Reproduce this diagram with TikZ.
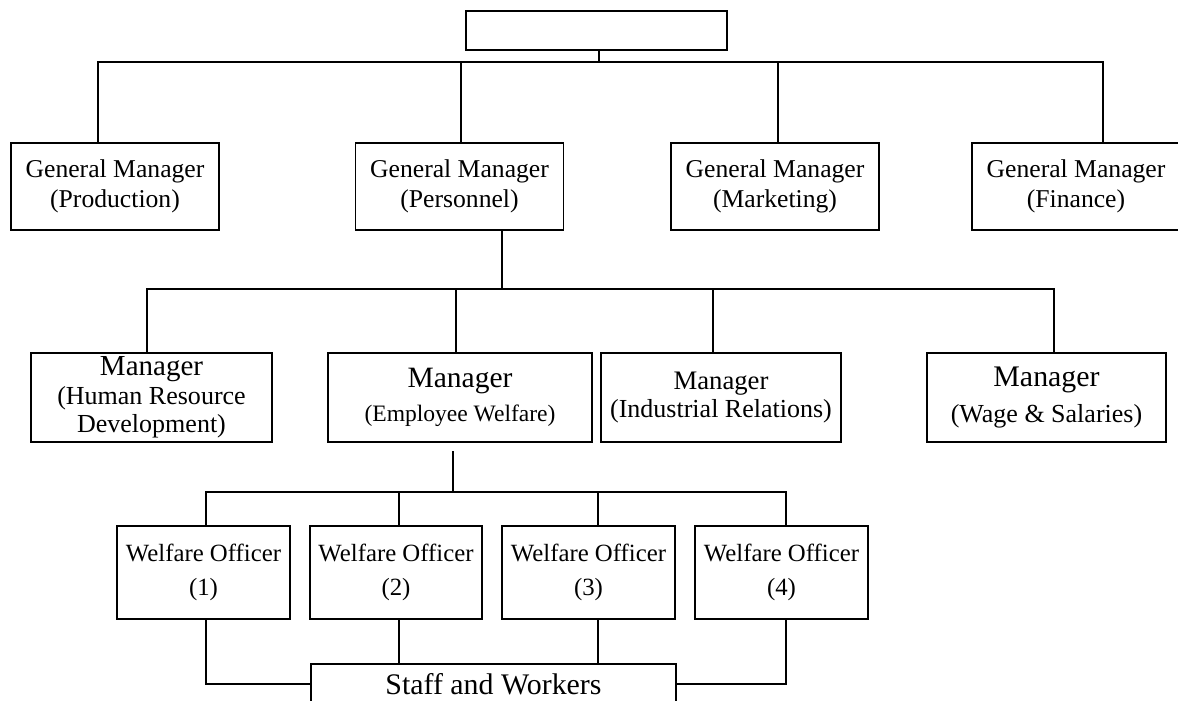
\documentclass[tikz,border=0pt]{standalone}
\usepackage{fontspec}
\setmainfont{Liberation Serif}
\usepackage{tikz}

\begin{document}
\begin{tikzpicture}[
  box/.style={draw, line width=1.1pt, align=center, inner sep=0pt},
  link/.style={line width=1.1pt},
  gmbox/.style={box, minimum width=4.16cm, minimum height=1.74cm, font=\fontsize{14.6}{17}\selectfont},
  mgbox/.style={box, minimum height=1.78cm},
  wobox/.style={box, minimum width=3.46cm, minimum height=1.86cm, font=\fontsize{14.1}{19.4}\selectfont}]
\useasboundingbox (0,0) rectangle (23.56,-14);
% top
\node[box, minimum width=5.22cm, minimum height=0.78cm] (top) at (11.93,-0.61) {};
% general managers
\node[gmbox] (prod) at (2.30,-3.73) {General Manager\\(Production)};
\node[gmbox] (pers) at (9.19,-3.73) {General Manager\\(Personnel)};
\node[gmbox] (mark) at (15.50,-3.73) {General Manager\\(Marketing)};
\node[gmbox] (fin) at (21.52,-3.73) {General Manager\\(Finance)};
% managers
\node[mgbox, minimum width=4.82cm, font=\fontsize{14.8}{16.2}\selectfont] (hrd) at (3.03,-7.95)
  {{\fontsize{16.5}{18}\selectfont Manager}\\(Human Resource\\Development)};
\node[mgbox, minimum width=5.28cm, font=\fontsize{13.4}{17}\selectfont] (ew) at (9.20,-7.95)
  {{\fontsize{16.8}{18}\selectfont Manager}\\[2.4pt](Employee Welfare)};
\node[mgbox, minimum width=4.80cm, font=\fontsize{14.8}{16}\selectfont] (ir) at (14.42,-7.95)
  {{\fontsize{15.2}{18}\selectfont Manager}\\(Industrial Relations)};
\node[mgbox, minimum width=4.78cm, font=\fontsize{14.8}{17}\selectfont] (ws) at (20.93,-7.95)
  {{\fontsize{17}{18}\selectfont Manager}\\[3.5pt](Wage \& Salaries)};
% welfare officers
\node[wobox] (wo1) at (4.07,-11.45) {Welfare Officer\\(1)};
\node[wobox, minimum width=3.44cm] (wo2) at (7.92,-11.45) {Welfare Officer\\(2)};
\node[wobox] (wo3) at (11.77,-11.45) {Welfare Officer\\(3)};
\node[wobox] (wo4) at (15.63,-11.45) {Welfare Officer\\(4)};
% staff
\node[box, minimum width=7.30cm, minimum height=0.80cm, font=\fontsize{17}{20}\selectfont] (staff) at (9.87,-13.68) {Staff and Workers};

% level 1
\coordinate (b1) at (11.98,-1.24);
\coordinate (d1) at (1.96,-1.24);
\coordinate (d2) at (9.22,-1.24);
\coordinate (d3) at (15.56,-1.24);
\coordinate (d4) at (22.06,-1.24);
\draw[link] (top.south -| b1) -- (b1);
\draw[link] (prod.north -| d1) -- (d1) -- (d4) -- (fin.north -| d4);
\draw[link] (pers.north -| d2) -- (d2);
\draw[link] (mark.north -| d3) -- (d3);
% level 2
\coordinate (b2) at (10.04,-5.78);
\coordinate (m1) at (2.94,-5.78);
\coordinate (m2) at (9.12,-5.78);
\coordinate (m3) at (14.26,-5.78);
\coordinate (m4) at (21.08,-5.78);
\draw[link] (pers.south -| b2) -- (b2);
\draw[link] (hrd.north -| m1) -- (m1) -- (m4) -- (ws.north -| m4);
\draw[link] (ew.north -| m2) -- (m2);
\draw[link] (ir.north -| m3) -- (m3);
% level 3
\coordinate (b3top) at (9.06,-9.02);
\coordinate (b3) at (9.06,-9.84);
\coordinate (w1) at (4.12,-9.84);
\coordinate (w2) at (7.98,-9.84);
\coordinate (w3) at (11.96,-9.84);
\coordinate (w4) at (15.72,-9.84);
\draw[link] (b3top) -- (b3);
\draw[link] (wo1.north -| w1) -- (w1) -- (w4) -- (wo4.north -| w4);
\draw[link] (wo2.north -| w2) -- (w2);
\draw[link] (wo3.north -| w3) -- (w3);
% level 4
\draw[link] (wo1.south -| w1) |- (staff.west);
\draw[link] (wo2.south -| w2) -- (staff.north -| w2);
\draw[link] (wo3.south -| w3) -- (staff.north -| w3);
\draw[link] (wo4.south -| w4) |- (staff.east);
\end{tikzpicture}
\end{document}
